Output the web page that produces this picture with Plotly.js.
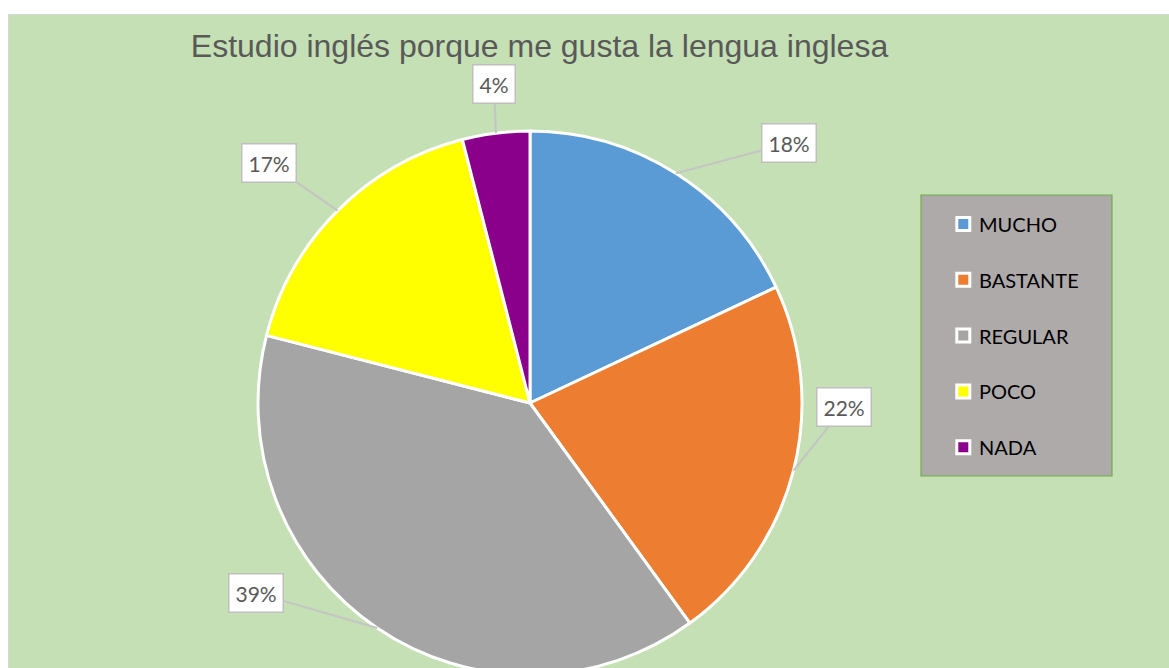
<!DOCTYPE html>
<html>
<head>
<meta charset="utf-8">
<script src="https://cdn.plot.ly/plotly-3.0.1.min.js"></script>
<style>
  html, body { margin:0; padding:0; background:#ffffff; overflow:hidden; width:1169px; height:668px; }
  #frame { position:absolute; left:8px; top:14px; width:1200px; height:720px; border:1px solid #D6D6D6; background:#C5E0B4; }
  #chart { position:absolute; left:0; top:0; width:1160px; height:700px; }
</style>
</head>
<body>
<div id="frame"><div id="chart"></div></div>
<script>
// ---- data ----
const categories = ['MUCHO', 'BASTANTE', 'REGULAR', 'POCO', 'NADA'];
const values = [18, 22, 39, 17, 4];
const sliceColors = ['#5B9BD5', '#ED7D31', '#A5A5A5', '#FFFF00', '#8B008B'];
const titleText = 'Estudio inglés porque me gusta la lengua inglesa';

// ---- layout geometry (pixels inside chart div) ----
const W = 1160, H = 700;
const pieCx = 521, pieCy = 388, pieR = 272;
// callout label offsets (pixels from slice edge midpoint)
const labelOffsets = [[113, -30], [51, -64], [-121, -35], [-69, -48], [-2, -49]];
// legend box geometry
const legBox = {x0: 912, y0: 180, x1: 1103, y1: 461};
const legFirstY = 209, legStep = 55.8, legSymX = 954.3, legTextX = 967.5, legSym = 13;

const px2x = p => p / W;
const px2y = p => 1 - p / H;

const total = values.reduce((a, b) => a + b, 0);

const trace = {
  type: 'pie',
  labels: categories,
  values: values,
  sort: false,
  direction: 'clockwise',
  rotation: 0,
  marker: { colors: sliceColors, line: { color: '#FFFFFF', width: 3 } },
  textinfo: 'none',
  hoverinfo: 'label+percent',
  showlegend: false,
  domain: {
    x: [px2x(pieCx - pieR), px2x(pieCx + pieR)],
    y: [px2y(pieCy + pieR), px2y(pieCy - pieR)]
  }
};

const annotations = [];
const shapes = [];

// callout labels, tip placed at each slice's mid-angle on the rim
let cum = 0;
values.forEach((v, i) => {
  const mid = (cum + v / 2) / total * 2 * Math.PI;
  cum += v;
  const tx = pieCx + pieR * Math.sin(mid);
  const ty = pieCy - pieR * Math.cos(mid);
  annotations.push({
    xref: 'paper', yref: 'paper',
    x: px2x(tx), y: px2y(ty),
    ax: labelOffsets[i][0], ay: labelOffsets[i][1],
    text: Math.round(v / total * 100) + '%',
    showarrow: true, arrowhead: 0, arrowwidth: 2, arrowcolor: '#C4C4C4',
    bgcolor: '#FFFFFF', bordercolor: '#BFBFBF', borderwidth: 1.5, borderpad: 6,
    font: { family: 'Lato, "Open Sans", sans-serif', size: 21, color: '#595959' }
  });
});

// legend box
shapes.push({
  type: 'rect', xref: 'paper', yref: 'paper',
  x0: px2x(legBox.x0), x1: px2x(legBox.x1), y0: px2y(legBox.y1), y1: px2y(legBox.y0),
  fillcolor: '#AEAAAA', line: { color: '#70AD47', width: 1.2 }, layer: 'below'
});
categories.forEach((c, i) => {
  const cy = legFirstY + i * legStep;
  shapes.push({
    type: 'rect', xref: 'paper', yref: 'paper',
    x0: px2x(legSymX - legSym / 2), x1: px2x(legSymX + legSym / 2),
    y0: px2y(cy + legSym / 2), y1: px2y(cy - legSym / 2),
    fillcolor: sliceColors[i], line: { color: '#FFFFFF', width: 3 }
  });
  annotations.push({
    xref: 'paper', yref: 'paper', x: px2x(legTextX), y: px2y(cy),
    xanchor: 'left', yanchor: 'middle', showarrow: false, text: c,
    font: { family: 'Lato, "Open Sans", sans-serif', size: 20, color: '#000000' }
  });
});

const layout = {
  width: W, height: H,
  margin: { l: 0, r: 0, t: 0, b: 0 },
  paper_bgcolor: '#C5E0B4',
  plot_bgcolor: '#C5E0B4',
  title: {
    text: titleText,
    xref: 'paper', yref: 'paper',
    x: px2x(530.5), y: px2y(30.5), xanchor: 'center', yanchor: 'middle',
    font: { family: '"Liberation Sans", Arial, sans-serif', size: 32, color: '#595959' }
  },
  showlegend: false,
  shapes: shapes,
  annotations: annotations
};

Plotly.newPlot('chart', [trace], layout, { displayModeBar: false, staticPlot: false });
</script>
</body>
</html>
